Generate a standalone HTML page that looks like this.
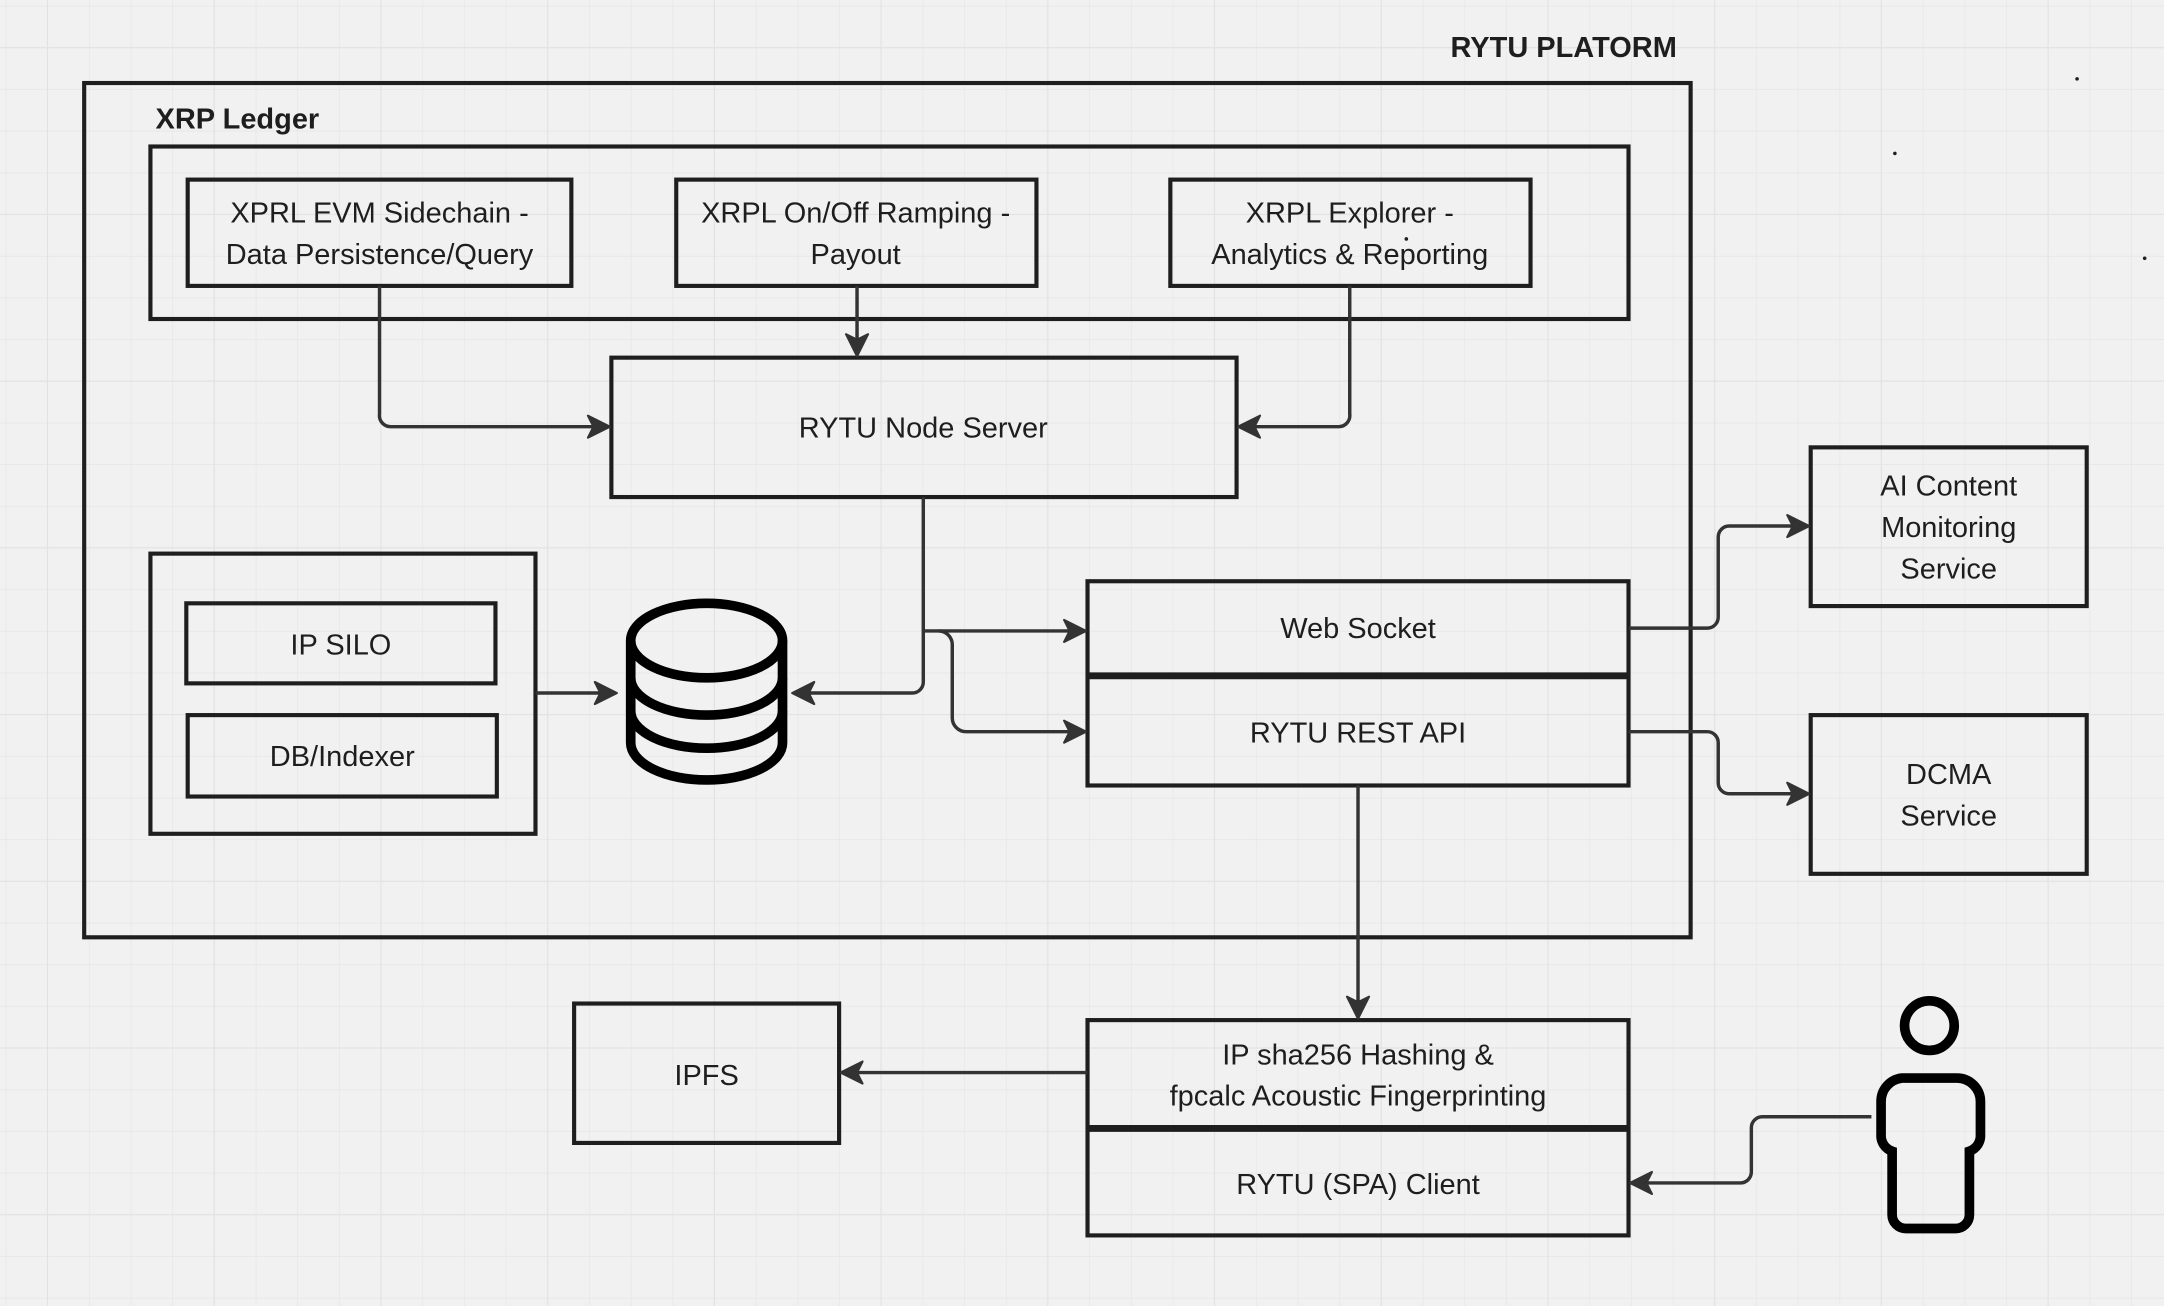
<!DOCTYPE html>
<html><head><meta charset="utf-8"><style>
html,body{margin:0;padding:0;background:#f1f1f1;}
svg{display:block;}
text{font-family:"Liberation Sans",sans-serif;fill:#1e1e1e;}
</style></head><body>
<svg width="2164" height="1306" viewBox="0 0 1568 946" xmlns="http://www.w3.org/2000/svg">
<defs>
<pattern id="g" x="4.6" y="4.6" width="30.2" height="30.2" patternUnits="userSpaceOnUse">
<path d="M30.2 0V30.2M0 30.2H30.2" stroke="#e6e6e6" stroke-width="1" fill="none"/>
</pattern>
<pattern id="G" x="-86" y="-86" width="120.8" height="120.8" patternUnits="userSpaceOnUse">
<path d="M120.8 0V120.8M0 120.8H120.8" stroke="#e2e2e2" stroke-width="1.6" fill="none"/>
</pattern>
<marker id="a" markerWidth="18" markerHeight="18" refX="16" refY="9" orient="auto" markerUnits="userSpaceOnUse">
<path d="M1,1 L17,9 L1,17 L5,9 Z" fill="#333" stroke="#333" stroke-width="1.5" stroke-linejoin="round"/>
</marker>
</defs>
<rect width="1568" height="946" fill="#f1f1f1"/>
<rect width="1568" height="946" fill="url(#g)"/>
<rect width="1568" height="946" fill="url(#G)"/>

<g fill="none" stroke="#1e1e1e" stroke-width="3">
<rect x="61" y="60" width="1164" height="619"/>
<rect x="109" y="106" width="1071" height="125"/>
<rect x="136" y="130" width="278" height="77"/>
<rect x="490" y="130" width="261" height="77"/>
<rect x="848" y="130" width="261" height="77"/>
<rect x="443" y="259" width="453" height="101"/>
<rect x="109" y="401" width="279" height="203"/>
<rect x="135" y="437" width="224" height="58"/>
<rect x="136" y="518" width="224" height="59"/>
<rect x="788" y="421" width="392" height="148"/>
<rect x="1312" y="324" width="200" height="115"/>
<rect x="1312" y="518" width="200" height="115"/>
<rect x="416" y="727" width="192" height="101"/>
<rect x="788" y="739" width="392" height="156"/>
</g>
<line x1="788" y1="489.5" x2="1180" y2="489.5" stroke="#1e1e1e" stroke-width="5"/>
<line x1="788" y1="817.5" x2="1180" y2="817.5" stroke="#1e1e1e" stroke-width="5"/>

<g fill="none" stroke="#000" stroke-width="7">
<ellipse cx="512" cy="464" rx="55" ry="27"/>
<path d="M457 464V538A55 27 0 0 0 567 538V464"/>
<path d="M457 491A55 27 0 0 0 567 491"/>
<path d="M457 515A55 27 0 0 0 567 515"/>
</g>

<g fill="none" stroke="#000" stroke-width="7">
<circle cx="1398" cy="743" r="18"/>
<path d="M1378 781H1418A17 17 0 0 1 1435 798V822A12 12 0 0 1 1427 834V880A10 10 0 0 1 1417 890H1381A10 10 0 0 1 1371 880V834A12 12 0 0 1 1363 822V798A17 17 0 0 1 1378 781Z"/>
</g>

<g fill="none" stroke="#333" stroke-width="2.5" marker-end="url(#a)">
<path d="M275 207V300A8 8 0 0 0 283 309H441"/>
<path d="M621 207V257"/>
<path d="M978 207V300A8 8 0 0 1 970 309H898"/>
<path d="M669 360V494A8 8 0 0 1 661 502H575"/>
<path d="M669 457H786"/>
<path d="M680 457A10 10 0 0 1 690 467V520A10 10 0 0 0 700 530H786"/>
<path d="M388 502H446"/>
<path d="M1180 455H1237A8 8 0 0 0 1245 447V389A8 8 0 0 1 1253 381H1310"/>
<path d="M1180 530H1237A8 8 0 0 1 1245 538V567A8 8 0 0 0 1253 575H1310"/>
<path d="M984 569V737"/>
<path d="M788 777H610"/>
<path d="M1356 809H1277A8 8 0 0 0 1269 817V849A8 8 0 0 1 1261 857H1182"/>
</g>

<g font-size="21" text-anchor="middle">
<text x="1133" y="41" font-weight="bold" font-size="21">RYTU PLATORM</text>
<text x="172" y="93" font-weight="bold" font-size="21">XRP Ledger</text>
<text x="275" y="161">XPRL EVM Sidechain -</text>
<text x="275" y="191">Data Persistence/Query</text>
<text x="620" y="161">XRPL On/Off Ramping -</text>
<text x="620" y="191">Payout</text>
<text x="978" y="161">XRPL Explorer -</text>
<text x="978" y="191">Analytics &amp; Reporting</text>
<text x="669" y="317">RYTU Node Server</text>
<text x="247" y="474">IP SILO</text>
<text x="248" y="555">DB/Indexer</text>
<text x="984" y="462">Web Socket</text>
<text x="984" y="538">RYTU REST API</text>
<text x="1412" y="359">AI Content</text>
<text x="1412" y="389">Monitoring</text>
<text x="1412" y="419">Service</text>
<text x="1412" y="568">DCMA</text>
<text x="1412" y="598">Service</text>
<text x="512" y="786">IPFS</text>
<text x="984" y="771">IP sha256 Hashing &amp;</text>
<text x="984" y="801">fpcalc Acoustic Fingerprinting</text>
<text x="984" y="865">RYTU (SPA) Client</text>
</g>
<g fill="#1e1e1e"><circle cx="1505" cy="57" r="1.3"/><circle cx="1373" cy="111" r="1.3"/><circle cx="1554" cy="187" r="1.3"/><circle cx="1019" cy="173" r="1.3"/></g>
</svg>
</body></html>
